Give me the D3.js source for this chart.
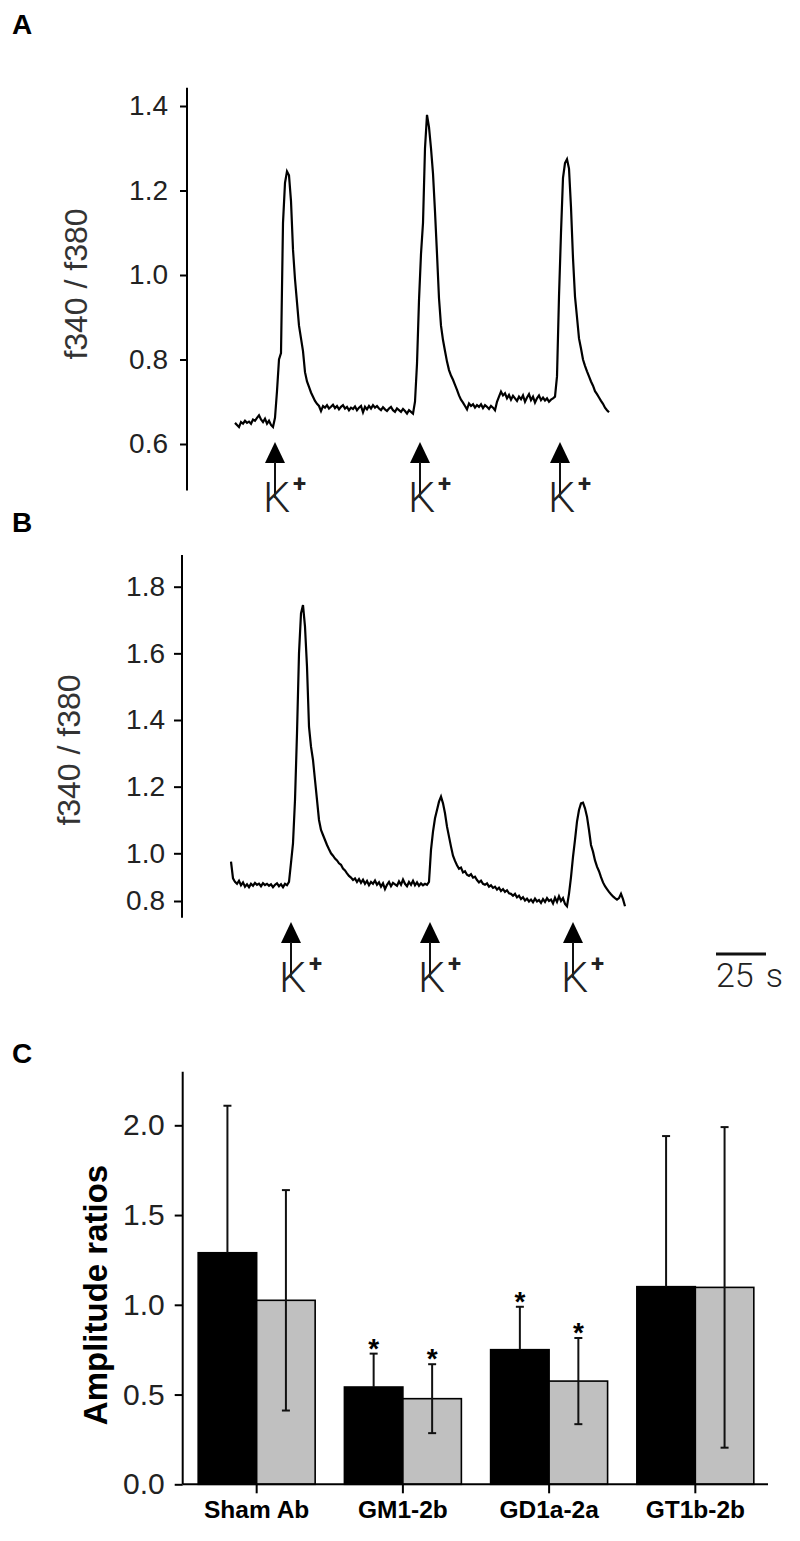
<!DOCTYPE html>
<html>
<head>
<meta charset='utf-8'>
<style>
  body { margin: 0; background: #fff; }
  svg { display: block; font-family: 'Liberation Sans', Arial, sans-serif; }
  .axis .domain { display: none; }
  .axis line, .axis-line { stroke: #000; stroke-width: 2px; }
  .axis text { fill: #222; }
  .trace { fill: none; stroke: #000; stroke-width: 2.2px; stroke-linejoin: miter; }
  .panel { font-weight: bold; font-size: 28px; fill: #000; }
  .ylab { font-size: 32px; fill: #333; }
  .stim { font-family: Roboto, 'Open Sans', sans-serif; font-weight: 300; fill: #222; }
  .cat { font-weight: bold; font-size: 24.5px; fill: #000; }
</style>
</head>
<body>
<script src='https://d3js.org/d3.v7.min.js'></script>
<script>

// panel A trace, f340/f380 ratio sampled every 1 s
var TRACE_A = [
  0.650, 0.645, 0.640, 0.652, 0.648, 0.655, 0.650, 0.653, 0.648, 0.658,
  0.655, 0.662, 0.668, 0.658, 0.652, 0.660, 0.648, 0.655, 0.645, 0.640,
  0.662, 0.725, 0.800, 0.815, 1.123, 1.218, 1.245, 1.236, 1.175, 1.060,
  0.990, 0.935, 0.880, 0.850, 0.820, 0.770, 0.748, 0.735, 0.722, 0.712,
  0.702, 0.695, 0.690, 0.678, 0.690, 0.686, 0.692, 0.684, 0.688, 0.693,
  0.685, 0.690, 0.682, 0.688, 0.692, 0.684, 0.688, 0.680, 0.686, 0.683,
  0.689, 0.680, 0.686, 0.690, 0.675, 0.688, 0.682, 0.690, 0.684, 0.692,
  0.686, 0.690, 0.684, 0.680, 0.687, 0.682, 0.678, 0.684, 0.688, 0.680,
  0.676, 0.684, 0.680, 0.676, 0.683, 0.678, 0.672, 0.680, 0.676, 0.672,
  0.700, 0.790, 0.940, 1.050, 1.123, 1.300, 1.379, 1.350, 1.300, 1.240,
  1.150, 1.050, 0.945, 0.880, 0.846, 0.820, 0.795, 0.775, 0.762, 0.752,
  0.740, 0.728, 0.715, 0.705, 0.698, 0.690, 0.682, 0.696, 0.690, 0.694,
  0.686, 0.692, 0.688, 0.694, 0.685, 0.692, 0.688, 0.683, 0.690, 0.686,
  0.680, 0.700, 0.712, 0.724, 0.715, 0.720, 0.708, 0.716, 0.705, 0.714,
  0.708, 0.702, 0.712, 0.706, 0.715, 0.700, 0.710, 0.718, 0.704, 0.712,
  0.698, 0.708, 0.715, 0.704, 0.710, 0.703, 0.708, 0.700, 0.705, 0.708,
  0.712, 0.760, 0.949, 1.100, 1.230, 1.265, 1.274, 1.252, 1.160, 1.040,
  0.949, 0.900, 0.850, 0.826, 0.800, 0.785, 0.772, 0.760, 0.748, 0.738,
  0.725, 0.718, 0.710, 0.702, 0.695, 0.686, 0.680, 0.675
];

// panel B trace, sampled every 1 s
var TRACE_B = [
  0.965, 0.895, 0.880, 0.872, 0.885, 0.866, 0.878, 0.860, 0.870, 0.858,
  0.872, 0.864, 0.876, 0.868, 0.873, 0.862, 0.875, 0.867, 0.872, 0.864,
  0.870, 0.858, 0.868, 0.874, 0.862, 0.870, 0.858, 0.872, 0.866, 0.880,
  0.960, 1.030, 1.160, 1.360, 1.600, 1.720, 1.745, 1.680, 1.560, 1.380,
  1.320, 1.280, 1.220, 1.160, 1.100, 1.070, 1.055, 1.040, 1.025, 1.012,
  1.000, 0.990, 0.978, 0.970, 0.958, 0.952, 0.936, 0.928, 0.916, 0.905,
  0.898, 0.888, 0.895, 0.880, 0.892, 0.876, 0.889, 0.872, 0.884, 0.866,
  0.880, 0.872, 0.886, 0.868, 0.878, 0.860, 0.874, 0.850, 0.868, 0.880,
  0.862, 0.876, 0.870, 0.864, 0.882, 0.868, 0.890, 0.872, 0.862, 0.880,
  0.868, 0.885, 0.866, 0.878, 0.864, 0.874, 0.866, 0.872, 0.868, 0.880,
  1.010, 1.065, 1.105, 1.130, 1.155, 1.170, 1.150, 1.120, 1.080, 1.050,
  1.020, 0.990, 0.968, 0.950, 0.935, 0.940, 0.920, 0.925, 0.910, 0.905,
  0.912, 0.898, 0.902, 0.888, 0.878, 0.885, 0.872, 0.868, 0.874, 0.860,
  0.866, 0.855, 0.860, 0.848, 0.856, 0.842, 0.850, 0.838, 0.845, 0.832,
  0.830, 0.822, 0.830, 0.815, 0.822, 0.808, 0.816, 0.802, 0.810, 0.798,
  0.806, 0.795, 0.810, 0.798, 0.804, 0.792, 0.808, 0.796, 0.812, 0.800,
  0.806, 0.790, 0.814, 0.796, 0.820, 0.800, 0.812, 0.788, 0.778, 0.830,
  0.900, 0.985, 1.040, 1.095, 1.130, 1.150, 1.152, 1.135, 1.110, 1.070,
  1.025, 1.005, 0.970, 0.944, 0.925, 0.900, 0.878, 0.862, 0.850, 0.838,
  0.828, 0.819, 0.812, 0.806, 0.812, 0.830, 0.808, 0.778
];

var STIM_A = [20, 92.5, 162.5];   // K+ application times (s)
var STIM_B = [30, 99.5, 171];
var TICKS_A = [0.6, 0.8, 1.0, 1.2, 1.4];
var TICKS_B = [0.8, 1.0, 1.2, 1.4, 1.6, 1.8];
var SCALE_BAR_S = 25;

var GROUPS = ['Sham Ab', 'GM1-2b', 'GD1a-2a', 'GT1b-2b'];
var MEAN_BLACK = [1.290, 0.542, 0.750, 1.101];
var SD_BLACK = [0.819, 0.186, 0.239, 0.839];
var MEAN_GRAY = [1.025, 0.477, 0.575, 1.097];
var SD_GRAY = [0.614, 0.192, 0.240, 0.893];
var SIG_BLACK = [false, true, true, false];
var SIG_GRAY = [false, true, true, false];
var TICKS_C = [0, 0.5, 1.0, 1.5, 2.0];

var svg = d3.select('body').append('svg')
    .attr('width', 800)
    .attr('height', 1541);

var fmt = d3.format('.1f');

function tracePanel(o) {
  var g = svg.append('g');

  var x = d3.scaleLinear().domain([0, 1]).range([o.x0, o.x0 + o.pxPerS]);
  var y = d3.scaleLinear().domain(o.yDomain).range(o.yRange);

  var ax = g.append('g')
      .attr('class', 'axis')
      .attr('transform', 'translate(' + o.axisX + ',0)')
      .call(d3.axisLeft(y).tickValues(o.ticks).tickFormat(fmt)
        .tickSize(o.tickSize).tickPadding(o.tickPadding));
  ax.attr('font-family', null).attr('font-size', null);
  ax.selectAll('text').style('font-size', '28px');
  ax.append('line')
      .attr('class', 'axis-line')
      .attr('y1', y(o.axisExtent[0]))
      .attr('y2', y(o.axisExtent[1]));

  g.append('text')
      .attr('class', 'ylab')
      .attr('transform', 'translate(' + o.labelX + ',' + o.labelY + ') rotate(-90)')
      .attr('text-anchor', 'middle')
      .text('f340 / f380');

  var line = d3.line()
      .x(function(d, i) { return x(i); })
      .y(function(d) { return y(d); });

  g.append('path')
      .datum(o.trace)
      .attr('class', 'trace')
      .attr('d', line);

  var stim = g.selectAll('.stimulus')
      .data(o.stim)
    .enter().append('g')
      .attr('class', 'stimulus')
      .attr('transform', function(d) { return 'translate(' + x(d) + ',' + o.arrowTop + ')'; });

  stim.append('path')
      .attr('d', 'M0,0L-10,21L10,21Z')
      .attr('fill', '#000');

  stim.append('line')
      .attr('y1', 20).attr('y2', 56)
      .attr('stroke', '#111')
      .attr('stroke-width', 2);

  var k = stim.append('text')
      .attr('class', 'stim')
      .attr('x', -12)
      .attr('y', 70);
  k.append('tspan').style('font-size', '43px').text('K');
  k.append('tspan')
      .attr('x', 18)
      .attr('y', 50)
      .style('font-size', '24px')
      .style('font-weight', 'bold')
      .text('+');

  return x;
}

svg.append('text').attr('class', 'panel').attr('x', 12).attr('y', 34).text('A');
svg.append('text').attr('class', 'panel').attr('x', 12).attr('y', 532).text('B');
svg.append('text').attr('class', 'panel').attr('x', 12).attr('y', 1063).text('C');

tracePanel({
  trace: TRACE_A, stim: STIM_A, ticks: TICKS_A,
  x0: 235, pxPerS: 2,
  yDomain: [0.6, 1.4], yRange: [444, 106],
  axisX: 187, axisExtent: [0.49, 1.443],
  tickSize: 7, tickPadding: 12,
  labelX: 87, labelY: 284,
  arrowTop: 442
});

var xB = tracePanel({
  trace: TRACE_B, stim: STIM_B, ticks: TICKS_B,
  x0: 231, pxPerS: 2,
  yDomain: [0.8, 1.0, 1.8], yRange: [901, 853.3, 586.7],
  axisX: 182, axisExtent: [0.73, 1.895],
  tickSize: 8, tickPadding: 9,
  labelX: 80, labelY: 750,
  arrowTop: 922
});

// 25 s scale bar
var sb = svg.append('g').attr('transform', 'translate(716,954)');
sb.append('line')
    .attr('x1', 0)
    .attr('x2', xB(SCALE_BAR_S) - xB(0))
    .attr('stroke', '#111')
    .attr('stroke-width', 3);
var sbt = sb.append('text')
    .attr('class', 'stim')
    .attr('y', 33)
    .style('font-size', '34px');
sbt.append('tspan').text(SCALE_BAR_S);
sbt.append('tspan').attr('dx', 12).text('s');

// panel C: bar chart
var cTop = 1071.7;
var yC = d3.scaleLinear().domain([0, 2]).range([1484.3, 1125.3]);
var xC = d3.scaleBand().domain(GROUPS).range([184, 768]).paddingInner(0.2).paddingOuter(0.097);
var xSub = d3.scaleBand().domain([0, 1]).range([0, xC.bandwidth()]);

var gc = svg.append('g');

var rows = GROUPS.map(function(d, i) {
  return [
    {group: d, k: 0, mean: MEAN_BLACK[i], sd: SD_BLACK[i], sig: SIG_BLACK[i], fill: '#000'},
    {group: d, k: 1, mean: MEAN_GRAY[i], sd: SD_GRAY[i], sig: SIG_GRAY[i], fill: '#c0c0c0'}
  ];
});
var bars = [].concat.apply([], rows);

function bx(d) { return xC(d.group) + xSub(d.k); }
function cx(d) { return bx(d) + xSub.bandwidth() / 2; }
// black bars only show the upper half of their error bar
function lo(d) { return d.k === 0 ? d.mean : d.mean - d.sd; }
function hi(d) { return d.mean + d.sd; }

gc.selectAll('.bar')
    .data(bars)
  .enter().append('rect')
    .attr('class', 'bar')
    .attr('x', bx)
    .attr('width', xSub.bandwidth())
    .attr('y', function(d) { return yC(d.mean); })
    .attr('height', function(d) { return yC(0) - yC(d.mean); })
    .attr('fill', function(d) { return d.fill; })
    .attr('stroke', '#000')
    .attr('stroke-width', 1.6);

var err = gc.selectAll('.err')
    .data(bars)
  .enter().append('g')
    .attr('class', 'err')
    .attr('stroke', '#111')
    .attr('stroke-width', 2);

err.append('line')
    .attr('x1', cx).attr('x2', cx)
    .attr('y1', function(d) { return yC(lo(d)); })
    .attr('y2', function(d) { return yC(hi(d)); });
err.append('line')
    .attr('x1', function(d) { return cx(d) - 4; })
    .attr('x2', function(d) { return cx(d) + 4; })
    .attr('y1', function(d) { return yC(hi(d)); })
    .attr('y2', function(d) { return yC(hi(d)); });
err.filter(function(d) { return d.k === 1; }).append('line')
    .attr('x1', function(d) { return cx(d) - 4; })
    .attr('x2', function(d) { return cx(d) + 4; })
    .attr('y1', function(d) { return yC(lo(d)); })
    .attr('y2', function(d) { return yC(lo(d)); });

gc.selectAll('.star')
    .data(bars.filter(function(d) { return d.sig; }))
  .enter().append('text')
    .attr('class', 'star')
    .attr('x', cx)
    .attr('y', function(d) { return yC(hi(d)) + 4; })
    .attr('text-anchor', 'middle')
    .style('font-size', '28px')
    .style('font-weight', 'bold')
    .text('*');

var ayc = gc.append('g')
    .attr('class', 'axis')
    .attr('transform', 'translate(182.7,0)')
    .call(d3.axisLeft(yC).tickValues(TICKS_C).tickFormat(fmt).tickSize(8).tickPadding(10));
ayc.attr('font-family', null).attr('font-size', null);
ayc.selectAll('text').style('font-size', '30px');
ayc.append('line')
    .attr('class', 'axis-line')
    .attr('y1', yC(0))
    .attr('y2', cTop);

var axc = gc.append('g')
    .attr('class', 'axis')
    .attr('transform', 'translate(0,' + yC(0) + ')')
    .call(d3.axisBottom(xC).tickSize(9).tickFormat(''));
axc.append('line')
    .attr('class', 'axis-line')
    .attr('x1', 182.7)
    .attr('x2', xC.range()[1]);

gc.selectAll('.cat')
    .data(GROUPS)
  .enter().append('text')
    .attr('class', 'cat')
    .attr('x', function(d) { return xC(d) + xC.bandwidth() / 2; })
    .attr('y', 1518)
    .attr('text-anchor', 'middle')
    .text(function(d) { return d; });

gc.append('text')
    .attr('transform', 'translate(107,1295) rotate(-90)')
    .attr('text-anchor', 'middle')
    .style('font-size', '33px')
    .style('font-weight', 'bold')
    .text('Amplitude ratios');

</script>
</body>
</html>
